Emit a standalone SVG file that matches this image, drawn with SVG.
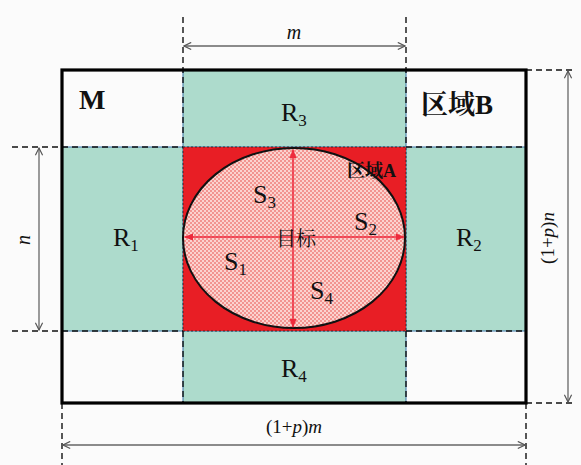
<svg xmlns="http://www.w3.org/2000/svg" width="581" height="465" viewBox="0 0 581 465">
<style>
.t{font-family:"Liberation Serif","Noto Sans CJK SC",serif;fill:#111}
.cjk{font-family:"Liberation Serif","Noto Serif CJK SC","Noto Sans CJK SC",serif;fill:#111}
.teal{fill:#addbcc;stroke:#3d74a8;stroke-width:1}
.dash{fill:none;stroke:#111;stroke-width:1.4;stroke-dasharray:6 4}
.dim{fill:none;stroke:#666;stroke-width:1.3}
.red{fill:none;stroke:#ee2a3c;stroke-width:1.5}
</style>
<defs>
<pattern id="chk" width="4" height="4" patternUnits="userSpaceOnUse">
<rect width="4" height="4" fill="#fbd3cf"/>
<rect width="2" height="2" fill="#f29490"/>
<rect x="2" y="2" width="2" height="2" fill="#f29490"/>
</pattern>
<marker id="ga" viewBox="0 0 10 10" refX="9" refY="5" markerWidth="9" markerHeight="9" orient="auto-start-reverse" markerUnits="userSpaceOnUse">
<path d="M1,1 L9,5 L1,9" fill="none" stroke="#555" stroke-width="1.3"/>
</marker>
<marker id="ra" viewBox="0 0 10 10" refX="9" refY="5" markerWidth="9" markerHeight="9" orient="auto-start-reverse" markerUnits="userSpaceOnUse">
<path d="M0,1 L10,5 L0,9 z" fill="#ee2a3c"/>
</marker>
</defs>
<rect width="581" height="465" fill="#fbfbfb"/>

<g id="R3"><rect class="teal" x="183" y="70" width="223" height="77"/>
<text class="t" x="281" y="121" font-size="26">R<tspan font-size="17" dy="5">3</tspan></text></g>
<g id="R1"><rect class="teal" x="62" y="147" width="121" height="184"/>
<text class="t" x="113" y="246" font-size="26">R<tspan font-size="17" dy="5">1</tspan></text></g>
<g id="R2"><rect class="teal" x="406" y="147" width="120" height="184"/>
<text class="t" x="456" y="246" font-size="26">R<tspan font-size="17" dy="5">2</tspan></text></g>
<g id="R4"><rect class="teal" x="183" y="331" width="223" height="72"/>
<text class="t" x="281" y="377" font-size="26">R<tspan font-size="17" dy="5">4</tspan></text></g>

<g id="regionA">
<rect x="183" y="147" width="223" height="184" fill="#e81e25"/>
<rect x="183" y="147" width="223" height="184" fill="none" stroke="#222" stroke-width="0.8" stroke-dasharray="2 2"/>
</g>

<g id="target">
<ellipse cx="294" cy="238" rx="111" ry="90" fill="url(#chk)" stroke="#111" stroke-width="2"/>
<text class="t" x="253" y="203" font-size="26">S<tspan font-size="17" dy="5">3</tspan></text>
<text class="t" x="354" y="230" font-size="26">S<tspan font-size="17" dy="5">2</tspan></text>
<text class="t" x="224" y="270" font-size="26">S<tspan font-size="17" dy="5">1</tspan></text>
<text class="t" x="310" y="299" font-size="26">S<tspan font-size="17" dy="5">4</tspan></text>
</g>

<g id="regionA-label">
<text class="cjk" x="347" y="177" font-size="18" font-weight="bold">区域A</text>
</g>

<g id="connectors">
<line class="red" x1="185" y1="237" x2="404" y2="237" marker-start="url(#ra)" marker-end="url(#ra)"/>
<line class="red" x1="293" y1="150" x2="293" y2="327" marker-start="url(#ra)" marker-end="url(#ra)"/>
<line class="dash" x1="183" y1="17" x2="183" y2="147"/>
<line class="dash" x1="183" y1="331" x2="183" y2="403"/>
<line class="dash" x1="406" y1="17" x2="406" y2="147"/>
<line class="dash" x1="406" y1="331" x2="406" y2="403"/>
<line class="dash" x1="12" y1="147" x2="183" y2="147"/>
<line class="dash" x1="406" y1="147" x2="526" y2="147"/>
<line class="dash" x1="12" y1="331" x2="183" y2="331"/>
<line class="dash" x1="406" y1="331" x2="526" y2="331"/>
<line class="dash" x1="526" y1="70" x2="572" y2="70"/>
<line class="dash" x1="526" y1="403" x2="572" y2="403"/>
<line class="dash" x1="62" y1="403" x2="62" y2="465"/>
<line class="dash" x1="526" y1="403" x2="526" y2="465"/>
<line class="dim" x1="184" y1="46" x2="405" y2="46" marker-start="url(#ga)" marker-end="url(#ga)"/>
<line class="dim" x1="63" y1="445" x2="525" y2="445" marker-start="url(#ga)" marker-end="url(#ga)"/>
<line class="dim" x1="39" y1="148" x2="39" y2="330" marker-start="url(#ga)" marker-end="url(#ga)"/>
<line class="dim" x1="568" y1="71" x2="568" y2="402" marker-start="url(#ga)" marker-end="url(#ga)"/>
</g>

<g id="frame">
<rect x="62" y="70" width="464" height="333" fill="none" stroke="#000" stroke-width="3.2"/>
<text class="t" x="79" y="109" font-size="28" font-weight="bold">M</text>
<text class="cjk" x="421" y="114" font-size="27" font-weight="bold">区域B</text>
<text class="cjk" x="276" y="246" font-size="20">目标</text>
</g>

<g id="labels">
<text class="t" x="294" y="39" font-size="20" font-style="italic" text-anchor="middle">m</text>
<text class="t" x="294" y="433" font-size="19" text-anchor="middle">(1+<tspan font-style="italic">p</tspan>)<tspan font-style="italic">m</tspan></text>
<text class="t" transform="translate(554 238) rotate(-90)" font-size="19" text-anchor="middle">(1+<tspan font-style="italic">p</tspan>)<tspan font-style="italic">n</tspan></text>
<text class="t" transform="translate(30 240) rotate(-90)" font-size="20" font-style="italic" text-anchor="middle">n</text>
</g>
</svg>
